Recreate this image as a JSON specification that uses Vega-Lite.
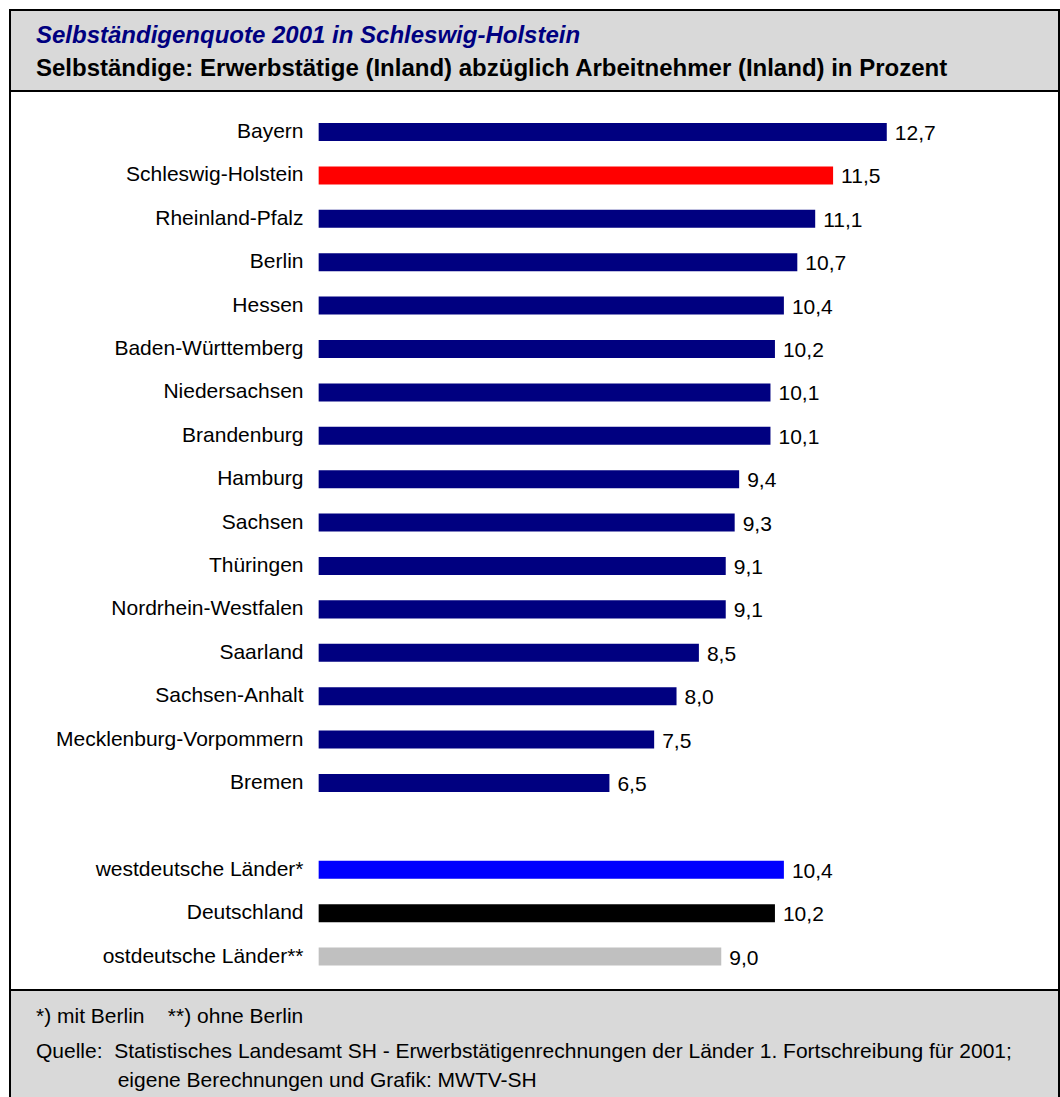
{
  "$schema": "https://vega.github.io/schema/vega-lite/v6.json",
  "background": "#ffffff",
  "padding": {"left": 9, "top": 9, "right": 0, "bottom": 0},
  "spacing": 0,
  "bounds": "flush",
  "config": {
    "font": "Liberation Sans",
    "locale": {"number": {"decimal": ",", "thousands": ".", "grouping": [3], "currency": ["", " €"]}},
    "view": {"stroke": "#000000", "strokeWidth": 2},
    "concat": {"spacing": 0}
  },
  "vconcat": [
    {
      "width": 1049,
      "height": 81,
      "view": {"fill": "#d9d9d9", "stroke": "#000000", "strokeWidth": 2},
      "title": {
        "text": "Selbständigenquote 2001 in Schleswig-Holstein",
        "subtitle": "Selbständige: Erwerbstätige (Inland) abzüglich Arbeitnehmer (Inland) in Prozent",
        "orient": "top",
        "anchor": "start",
        "frame": "group",
        "offset": -71,
        "dx": 26,
        "font": "Liberation Sans",
        "fontSize": 24,
        "fontWeight": "bold",
        "fontStyle": "italic",
        "color": "#000080",
        "subtitleFont": "Liberation Sans",
        "subtitleFontSize": 24,
        "subtitleFontWeight": "bold",
        "subtitleColor": "#000000",
        "subtitlePadding": 9
      },
      "data": {"values": [{}]},
      "mark": {"type": "text"},
      "encoding": {"text": {"value": ""}}
    },
    {
      "width": 1049,
      "height": 899,
      "view": {"fill": "#ffffff", "stroke": "#000000", "strokeWidth": 2},
      "data": {
        "values": [
          {"land": "Bayern", "wert": 12.7, "typ": "Land"},
          {"land": "Schleswig-Holstein", "wert": 11.5, "typ": "SH"},
          {"land": "Rheinland-Pfalz", "wert": 11.1, "typ": "Land"},
          {"land": "Berlin\u00a0", "wert": 10.7, "typ": "Land"},
          {"land": "Hessen", "wert": 10.4, "typ": "Land"},
          {"land": "Baden-Württemberg", "wert": 10.2, "typ": "Land"},
          {"land": "Niedersachsen", "wert": 10.1, "typ": "Land"},
          {"land": "Brandenburg", "wert": 10.1, "typ": "Land"},
          {"land": "Hamburg", "wert": 9.4, "typ": "Land"},
          {"land": "Sachsen", "wert": 9.3, "typ": "Land"},
          {"land": "Thüringen", "wert": 9.1, "typ": "Land"},
          {"land": "Nordrhein-Westfalen", "wert": 9.1, "typ": "Land"},
          {"land": "Saarland", "wert": 8.5, "typ": "Land"},
          {"land": "Sachsen-Anhalt", "wert": 8.0, "typ": "Land"},
          {"land": "Mecklenburg-Vorpommern", "wert": 7.5, "typ": "Land"},
          {"land": "Bremen", "wert": 6.5, "typ": "Land"},
          {"land": "westdeutsche Länder*", "wert": 10.4, "typ": "West"},
          {"land": "Deutschland", "wert": 10.2, "typ": "D"},
          {"land": "ostdeutsche Länder**", "wert": 9.0, "typ": "Ost"}
        ]
      },
      "encoding": {
        "y": {
          "field": "land",
          "type": "nominal",
          "scale": {
            "domain": ["Bayern", "Schleswig-Holstein", "Rheinland-Pfalz", "Berlin\u00a0", "Hessen", "Baden-Württemberg", "Niedersachsen", "Brandenburg", "Hamburg", "Sachsen", "Thüringen", "Nordrhein-Westfalen", "Saarland", "Sachsen-Anhalt", "Mecklenburg-Vorpommern", "Bremen", " ", "westdeutsche Länder*", "Deutschland", "ostdeutsche Länder**"],
            "paddingInner": 0.585,
            "paddingOuter": 0.65,
            "align": 0.567
          },
          "axis": {
            "title": null,
            "orient": "left",
            "offset": -309,
            "domain": false,
            "ticks": false,
            "tickSize": 0,
            "grid": false,
            "labelPadding": 16,
            "labelFont": "Liberation Sans",
            "labelFontSize": 21,
            "labelColor": "#000000",
            "labelLimit": 400
          }
        },
        "x": {
          "field": "wert",
          "type": "quantitative",
          "scale": {"domain": [-6.9, 16.55], "nice": false, "zero": false},
          "axis": null
        }
      },
      "layer": [
        {
          "mark": {"type": "bar"},
          "encoding": {
            "x2": {"datum": 0},
            "color": {
              "field": "typ",
              "type": "nominal",
              "scale": {"domain": ["Land", "SH", "West", "D", "Ost"], "range": ["#000080", "#ff0000", "#0000ff", "#000000", "#c0c0c0"]},
              "legend": null
            }
          }
        },
        {
          "mark": {"type": "text", "align": "left", "baseline": "middle", "dx": 8, "dy": 2, "fontSize": 21, "font": "Liberation Sans", "color": "#000000"},
          "encoding": {
            "text": {"field": "wert", "type": "quantitative", "format": ".1f"}
          }
        }
      ]
    },
    {
      "width": 1049,
      "height": 120,
      "view": {"fill": "#d9d9d9", "stroke": "#000000", "strokeWidth": 2},
      "title": {
        "text": "*) mit Berlin\u00a0\u00a0\u00a0\u00a0**) ohne Berlin",
        "subtitle": ["Quelle:\u00a0\u00a0Statistisches Landesamt SH - Erwerbstätigenrechnungen der Länder 1. Fortschreibung für 2001;", "\u200b\u00a0\u00a0\u00a0\u00a0\u00a0\u00a0\u00a0\u00a0\u00a0\u00a0\u00a0\u00a0\u00a0\u00a0eigene Berechnungen und Grafik: MWTV-SH"],
        "orient": "top",
        "anchor": "start",
        "frame": "group",
        "offset": -101,
        "dx": 26,
        "font": "Liberation Sans",
        "fontSize": 21,
        "fontWeight": "normal",
        "color": "#000000",
        "subtitleFont": "Liberation Sans",
        "subtitleFontSize": 21,
        "subtitleColor": "#000000",
        "subtitleLineHeight": 29,
        "subtitlePadding": 14
      },
      "data": {"values": [{}]},
      "mark": {"type": "text"},
      "encoding": {"text": {"value": ""}}
    }
  ]
}
